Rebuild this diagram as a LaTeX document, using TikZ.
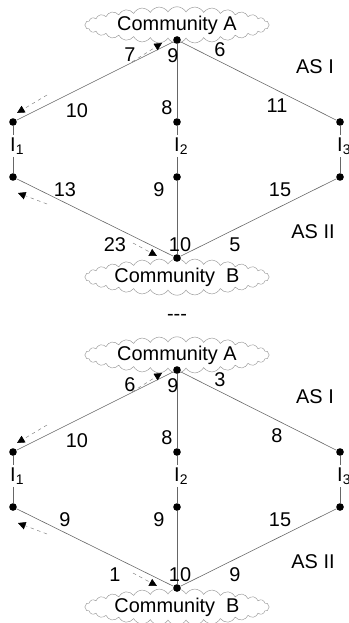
\documentclass[tikz,border=0pt]{standalone}
\usepackage{fontspec}
\setmainfont{Liberation Sans}
\usetikzlibrary{arrows.meta,shapes.symbols}

\begin{document}
\begin{tikzpicture}[x=0.03cm, y=-0.03cm,
    every node/.style={font=\fontsize{17}{20}\selectfont},
    dot/.style={circle, fill, inner sep=0pt, minimum size=6.5pt},
    community/.style={cloud, cloud puffs=32, cloud puff arc=120, aspect=7, draw=gray!80, inner sep=0pt},
    link/.style={gray!80!black, line width=0.5pt},
    flow/.style={gray, dashed, line width=0.4pt, -{Triangle[black, length=6.5pt, width=6.5pt]}}]
  \useasboundingbox (0,0) rectangle (349,623);
  \node (sep) at (177,317) {-{}-{}-};
  \foreach \oy/\topL/\topM/\topR/\upL/\upM/\upR/\lowL/\lowM/\lowR/\botL/\botM/\botR in
      {0/7/9/6/10/8/11/13/9/15/23/10/5, 330/6/9/3/10/8/8/9/9/15/1/10/9} {
    \begin{scope}[shift={(0,\oy)}]
      % communities
      \node[community] (ca) at (177,25) {Community A};
      \node[community] (cb) at (177,277) {Community~ B};
      \node[dot] (a) at (177,40) {};
      \node[dot] (b) at (177,258) {};
      % interconnection points
      \foreach \i/\x in {1/13, 2/177, 3/340} {
        \node[dot] (t\i) at (\x,122) {};
        \node[dot] (b\i) at (\x,177) {};
        \node[inner sep=2pt] (i\i) at (\x,146) {I\rlap{\textsubscript{\i}}};
        \draw[link] (t\i) -- (i\i) -- (b\i);
        \draw[link] (a) -- (t\i);
        \draw[link] (b) -- (b\i);
      }
      % weights
      \node (wa1) at (130,55) {\topL};
      \node (wa2) at (173,56) {\topM};
      \node (wa3) at (220,50) {\topR};
      \node (wu1) at (77,111) {\upL};
      \node (wu2) at (167,108) {\upM};
      \node (wu3) at (277,106) {\upR};
      \node (wl1) at (65,190) {\lowL};
      \node (wl2) at (159,190) {\lowM};
      \node (wl3) at (280,190) {\lowR};
      \node (wb1) at (115,245) {\botL};
      \node (wb2) at (180,245) {\botM};
      \node (wb3) at (235,245) {\botR};
      \node (as1) at (315,67) {AS I};
      \node (as2) at (313,232) {AS II};
      % announcement directions
      \coordinate (f1s) at (47,95);  \coordinate (f1e) at (17,113);
      \coordinate (f2s) at (132,62); \coordinate (f2e) at (162,43);
      \coordinate (f3s) at (47,204); \coordinate (f3e) at (18,193);
      \coordinate (f4s) at (133,243); \coordinate (f4e) at (157,256);
      \foreach \f in {1,...,4}
        \draw[flow] (f\f s) -- (f\f e);
    \end{scope}
  }
\end{tikzpicture}
\end{document}
